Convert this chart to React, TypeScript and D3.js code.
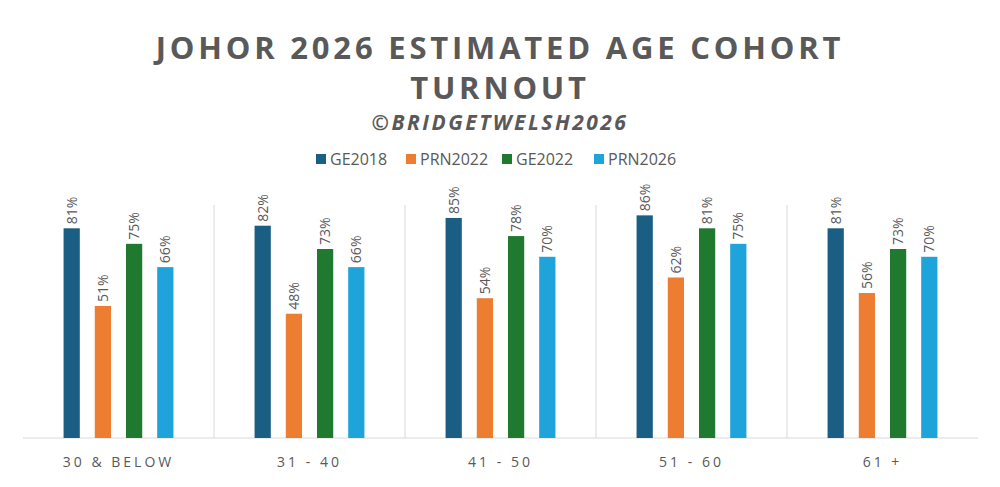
import { useEffect, useRef } from "react"
import * as d3 from "d3"

const categories = ["30 & BELOW", "31 - 40", "41 - 50", "51 - 60", "61 +"]
const seriesNames = ["GE2018", "PRN2022", "GE2022", "PRN2026"]
const seriesColors = ["#1b5e84", "#ed7d31", "#1f7a30", "#1ea3da"]
const ge2018 = [81, 82, 85, 86, 81]
const prn2022 = [51, 48, 54, 62, 56]
const ge2022 = [75, 73, 78, 81, 73]
const prn2026 = [66, 66, 70, 75, 70]

export default function App() {
  const svgRef = useRef(null)

  useEffect(() => {
    const svg = d3.select(svgRef.current)
    svg.selectAll("*").remove()
    const width = 1000
    const height = 487
    const left = 23, right = 978, top = 205, bottom = 438
    const font = "'Open Sans', 'DejaVu Sans', sans-serif"
    const grey = "#595959"

    svg.append("rect").attr("x", 0.5).attr("y", 0.5).attr("width", width - 1).attr("height", height - 1)
      .attr("fill", "#fff").attr("stroke", "#bfbfbf")

    const values = [ge2018, prn2022, ge2022, prn2026]
    const x = d3.scaleBand().domain(categories).range([left, right])
    const xs = d3.scaleBand().domain(seriesNames).range([0, x.bandwidth()]).paddingInner(0.48).paddingOuter(1.3)
    const y = d3.scaleLinear().domain([0, 90]).range([bottom, top])

    categories.slice(1).forEach((c) => {
      svg.append("line").attr("x1", x(c)).attr("x2", x(c)).attr("y1", top).attr("y2", bottom)
        .attr("stroke", "#d9d9d9")
    })
    svg.append("line").attr("x1", left).attr("x2", right).attr("y1", bottom).attr("y2", bottom).attr("stroke", "#d9d9d9")

    seriesNames.forEach((s, si) => {
      categories.forEach((c, ci) => {
        const v = values[si][ci]
        const bx = x(c) + xs(s)
        svg.append("rect").attr("x", bx).attr("y", y(v)).attr("width", xs.bandwidth())
          .attr("height", bottom - y(v)).attr("fill", seriesColors[si])
        const cx = bx + xs.bandwidth() / 2
        svg.append("text").attr("transform", `translate(${cx + 5},${y(v) - 4}) rotate(-90)`)
          .attr("font-family", font).attr("font-size", 14).attr("fill", grey).text(v + "%")
      })
    })

    categories.forEach((c) => {
      svg.append("text").attr("x", x(c) + x.bandwidth() / 2).attr("y", 467).attr("text-anchor", "middle")
        .attr("font-family", font).attr("font-size", 14).attr("letter-spacing", 3).attr("fill", grey).text(c)
    })

    const title = [["JOHOR 2026 ESTIMATED AGE COHORT", 59], ["TURNOUT", 99]]
    title.forEach(([t, ty]) => {
      svg.append("text").attr("x", width / 2).attr("y", ty).attr("text-anchor", "middle")
        .attr("font-family", font).attr("font-size", 31).attr("font-weight", "bold").attr("letter-spacing", 3.8)
        .attr("fill", grey).text(t)
    })
    svg.append("text").attr("x", width / 2).attr("y", 130).attr("text-anchor", "middle")
      .attr("font-family", font).attr("font-size", 21).attr("font-weight", "bold").attr("font-style", "italic")
      .attr("letter-spacing", 2.5).attr("fill", grey).text("©BRIDGETWELSH2026")

    const legendX = [316, 406, 502, 594]
    seriesNames.forEach((s, i) => {
      svg.append("rect").attr("x", legendX[i]).attr("y", 154).attr("width", 10).attr("height", 10).attr("fill", seriesColors[i])
      svg.append("text").attr("x", legendX[i] + 14).attr("y", 165).attr("font-family", font).attr("font-size", 16)
        .attr("fill", grey).text(s)
    })

    svg.attr("width", width).attr("height", height)
  }, [])

  return <svg ref={svgRef} style={{ display: "block", margin: -8 }}></svg>
}
